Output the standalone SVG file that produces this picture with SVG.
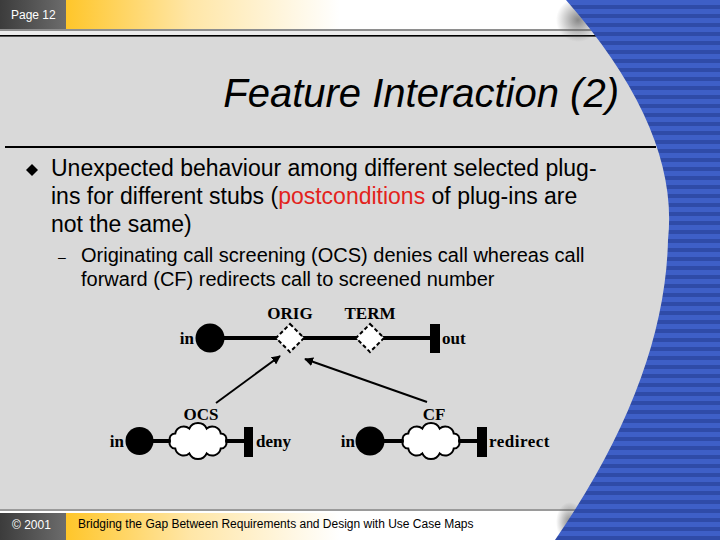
<svg xmlns="http://www.w3.org/2000/svg" width="720" height="540" viewBox="0 0 720 540">
<style>
.sans{font-family:"Liberation Sans",Arial,sans-serif}
.lbl{font-family:"Liberation Serif","Times New Roman",serif;font-weight:bold;font-size:17px;fill:#000}
.path{stroke:#000;stroke-width:4;fill:none}
.conn{stroke:#000;stroke-width:2;fill:none;marker-end:url(#arrow)}
.stub{fill:#fff;stroke:#000;stroke-width:2;stroke-dasharray:4 2.5}
.plug{fill:#fff;stroke:#000;stroke-width:2}
.dot{fill:#000}
</style>
<defs>
<linearGradient id="gold" x1="66" y1="0" x2="340" y2="0" gradientUnits="userSpaceOnUse">
<stop offset="0" stop-color="#ffc62a"/>
<stop offset="0.45" stop-color="#ffe6a6"/>
<stop offset="1" stop-color="#ffffff"/>
</linearGradient>
<linearGradient id="dark" x1="0" y1="0" x2="1" y2="0">
<stop offset="0" stop-color="#3c3c3c"/>
<stop offset="1" stop-color="#6c6c6c"/>
</linearGradient>
<radialGradient id="shade">
<stop offset="0" stop-color="#555" stop-opacity="0.7"/>
<stop offset="1" stop-color="#555" stop-opacity="0"/>
</radialGradient>
<pattern id="stripes" width="10" height="9" patternUnits="userSpaceOnUse">
<rect width="10" height="9" fill="#3e5fc7"/>
<rect y="5" width="10" height="4" fill="#2f4ba8"/>
</pattern>
<marker id="arrow" viewBox="0 0 10 10" refX="9" refY="5" markerWidth="4.5" markerHeight="4.5" orient="auto">
<path d="M0,0 L10,5 L0,10 Z" fill="#000"/>
</marker>
<path id="cloud" d="M-28,0 A5.5,5.5 0 0 1 -22.7,-7.6 A8.5,8.5 0 0 1 -8.7,-12.4 A9.5,9.5 0 0 1 8.7,-12.4 A8.5,8.5 0 0 1 22.7,-7.6 A5.5,5.5 0 0 1 28,0 A5.5,5.5 0 0 1 22.7,7.6 A8.5,8.5 0 0 1 8.7,12.4 A9.5,9.5 0 0 1 -8.7,12.4 A8.5,8.5 0 0 1 -22.7,7.6 A5.5,5.5 0 0 1 -28,0 Z"/>
<path id="diamond" d="M0,-14 L14,0 L0,14 L-14,0 Z"/>
</defs>

<!-- background -->
<rect width="720" height="540" fill="#d9d9d9"/>

<!-- header -->
<g id="header">
<rect x="0" y="0" width="620" height="30" fill="#fff"/>
<rect x="66" y="0" width="540" height="29" fill="url(#gold)"/>
<rect x="0" y="29" width="600" height="2" fill="#8e8e8e"/>
<rect x="0" y="31" width="605" height="4" fill="#ececec"/>
<rect x="0" y="35" width="605" height="1.6" fill="#000"/>
<rect x="0" y="0" width="66" height="29" fill="url(#dark)"/>
<text x="11" y="19" class="sans" font-size="12" fill="#fff">Page 12</text>
<ellipse cx="578" cy="20" rx="22" ry="22" fill="url(#shade)"/>
</g>

<!-- footer -->
<g id="footer">
<rect x="0" y="509" width="578" height="2" fill="#9a9a9a"/>
<rect x="0" y="511" width="600" height="29" fill="#fff"/>
<rect x="66" y="513" width="520" height="27" fill="url(#gold)"/>
<rect x="0" y="513" width="66" height="27" fill="url(#dark)"/>
<text x="12" y="529" class="sans" font-size="12" fill="#fff">© 2001</text>
<text x="78" y="528" class="sans" font-size="12" fill="#000">Bridging the Gap Between Requirements and Design with Use Case Maps</text>
<ellipse cx="570" cy="522" rx="14" ry="20" fill="url(#shade)"/>
</g>

<!-- blue band -->
<path id="band" d="M566,0 Q680,130 668,240 Q665,380 555,540 L720,540 L720,0 Z" fill="url(#stripes)"/>

<!-- title -->
<text x="619" y="107" class="sans" font-size="40" font-style="italic" text-anchor="end">Feature Interaction (2)</text>
<rect x="5" y="146" width="651" height="2" fill="#000"/>

<!-- body -->
<g id="body" class="sans" fill="#000">
<path d="M32,164 L38,170 L32,176 L26,170 Z" fill="#000"/>
<text x="51" y="176" font-size="23">Unexpected behaviour among different selected plug-</text>
<text x="51" y="204" font-size="23">ins for different stubs (<tspan fill="#e3231c">postconditions</tspan> of plug-ins are</text>
<text x="51" y="232" font-size="23">not the same)</text>
<text x="58" y="262" font-size="14">–</text>
<text x="81" y="262" font-size="20">Originating call screening (OCS) denies call whereas call</text>
<text x="81" y="286" font-size="20">forward (CF) redirects call to screened number</text>
</g>

<!-- connectors -->
<g id="connectors">
<line class="path" x1="224" y1="338" x2="431" y2="338"/>
<line class="path" x1="153" y1="441" x2="245" y2="441"/>
<line class="path" x1="384" y1="441" x2="478" y2="441"/>
<line class="conn" x1="216" y1="403" x2="280" y2="356"/>
<line class="conn" x1="427" y1="402" x2="305" y2="359"/>
</g>

<!-- top map -->
<g id="root-start">
<circle class="dot" cx="210" cy="338" r="14.5"/>
<text class="lbl" x="194" y="344" text-anchor="end">in</text>
</g>
<g id="stub-orig">
<use href="#diamond" x="290" y="338" class="stub"/>
<text class="lbl" x="290" y="319" text-anchor="middle">ORIG</text>
</g>
<g id="stub-term">
<use href="#diamond" x="370" y="338" class="stub"/>
<text class="lbl" x="370" y="319" text-anchor="middle">TERM</text>
</g>
<g id="root-end">
<rect class="dot" x="430" y="324" width="10" height="29"/>
<text class="lbl" x="442" y="344">out</text>
</g>

<!-- OCS plug-in -->
<g id="ocs-start">
<circle class="dot" cx="139.5" cy="441" r="14"/>
<text class="lbl" x="124" y="447" text-anchor="end">in</text>
</g>
<g id="ocs">
<use href="#cloud" x="198" y="441" class="plug"/>
<text class="lbl" x="201" y="420" text-anchor="middle">OCS</text>
</g>
<g id="ocs-end">
<rect class="dot" x="244" y="427" width="9" height="30"/>
<text class="lbl" x="256" y="447">deny</text>
</g>

<!-- CF plug-in -->
<g id="cf-start">
<circle class="dot" cx="370" cy="441" r="14.5"/>
<text class="lbl" x="355" y="447" text-anchor="end">in</text>
</g>
<g id="cf">
<use href="#cloud" x="431" y="441" class="plug"/>
<text class="lbl" x="434" y="420" text-anchor="middle">CF</text>
</g>
<g id="cf-end">
<rect class="dot" x="477" y="427" width="10" height="30"/>
<text class="lbl" x="489" y="447" letter-spacing="0.5">redirect</text>
</g>
</svg>
